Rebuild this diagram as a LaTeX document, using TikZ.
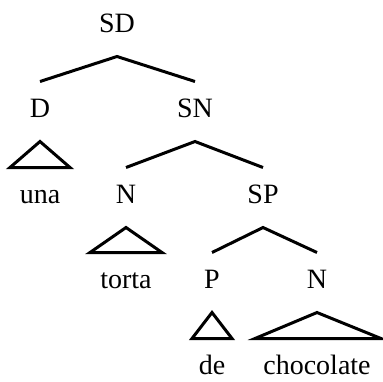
\documentclass[tikz,border=0pt]{standalone}
\usepackage{fontspec}
\setmainfont{Liberation Serif}
\begin{document}
\begin{tikzpicture}[x=0.5pt,y=-0.5pt,line width=1.5pt,
    lbl/.style={anchor=base,inner xsep=0pt,inner ysep=5pt,text height=12pt,text depth=6.5pt,font=\fontsize{14}{16}\selectfont}]
      \useasboundingbox (0,0) rectangle (383,381);
      \node[lbl] (sd) at (117,32) {SD};
      \node[lbl] (d) at (40,117) {D};
      \node[lbl] (sn) at (195,117) {SN};
      \node[lbl] (una) at (40,203) {una};
      \node[lbl] (n) at (126,203) {N};
      \node[lbl] (sp) at (263,203) {SP};
      \node[lbl] (torta) at (126,288) {torta};
      \node[lbl] (p) at (212,288) {P};
      \node[lbl] (nn) at (317,288) {N};
      \node[lbl] (de) at (212,374) {de};
      \node[lbl] (choc) at (317,374) {chocolate};
      \draw (d.north)--(sd.south)--(sn.north);
      \draw (n.north)--(sn.south)--(sp.north);
      \draw (p.north)--(sp.south)--(nn.north);
      \draw (d.south)--([xshift=-15pt]una.north)--([xshift=15pt]una.north)--cycle;
      \draw (n.south)--([xshift=-18pt]torta.north)--([xshift=18pt]torta.north)--cycle;
      \draw (p.south)--([xshift=-10pt]de.north)--([xshift=10pt]de.north)--cycle;
      \draw (nn.south)--([xshift=-31pt]choc.north)--([xshift=32pt]choc.north)--cycle;
\end{tikzpicture}
\end{document}
